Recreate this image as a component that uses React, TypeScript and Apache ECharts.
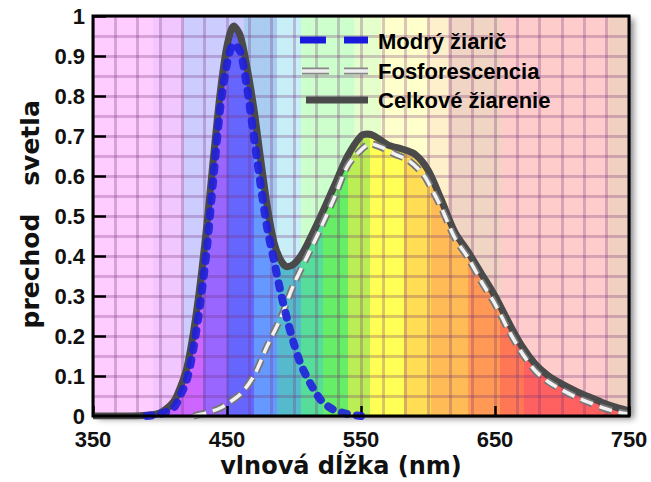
import React, { useEffect, useRef } from "react";
import * as echarts from "echarts";

// ---- data ----
const X_TICKS = [350, 450, 550, 650, 750];
const Y_TICKS = [0, 0.1, 0.2, 0.3, 0.4, 0.5, 0.6, 0.7, 0.8, 0.9, 1];

const totalNm = [350, 380, 390, 400, 410, 415, 420, 425, 430, 435, 440, 445, 450, 455, 460, 465, 470, 475, 480, 485, 490, 495, 500, 505, 510, 520, 530, 540, 550, 555, 560, 570, 580, 590, 600, 610, 620, 630, 640, 650, 660, 670, 680, 690, 700, 710, 720, 730, 740, 750];
const totalVal = [0, 0, 0.002, 0.008, 0.035, 0.07, 0.12, 0.21, 0.33, 0.48, 0.65, 0.81, 0.925, 0.975, 0.95, 0.87, 0.77, 0.645, 0.525, 0.435, 0.39, 0.373, 0.38, 0.4, 0.43, 0.5, 0.575, 0.65, 0.7, 0.705, 0.7, 0.678, 0.668, 0.655, 0.615, 0.54, 0.46, 0.41, 0.355, 0.3, 0.235, 0.175, 0.13, 0.1, 0.08, 0.063, 0.048, 0.034, 0.022, 0.013];

const phosNm = [425, 435, 445, 450, 460, 470, 480, 490, 500, 510, 520, 530, 540, 550, 557, 565, 575, 585, 595, 600, 610, 620, 630, 640, 650, 660, 670, 680, 690, 700, 710, 720, 730, 740, 750];
const phosVal = [0, 0.008, 0.02, 0.03, 0.055, 0.1, 0.175, 0.245, 0.33, 0.4, 0.47, 0.545, 0.625, 0.665, 0.68, 0.672, 0.655, 0.64, 0.61, 0.585, 0.52, 0.445, 0.395, 0.335, 0.28, 0.215, 0.158, 0.113, 0.085, 0.065, 0.048, 0.034, 0.021, 0.011, 0.005];

const blueNm = [390, 400, 410, 415, 420, 425, 430, 435, 440, 445, 450, 455, 460, 465, 470, 475, 480, 485, 490, 495, 500, 505, 510, 515, 520, 525, 530, 540, 550];
const blueVal = [0, 0.005, 0.02, 0.05, 0.09, 0.17, 0.28, 0.42, 0.6, 0.77, 0.88, 0.93, 0.91, 0.82, 0.7, 0.58, 0.47, 0.39, 0.31, 0.24, 0.18, 0.13, 0.095, 0.065, 0.04, 0.025, 0.015, 0.005, 0];

const SERIES_NAMES = ["Modrý žiarič", "Fosforescencia", "Celkové žiarenie"];

// ---- colour bands (nm ranges) ----
const PALE_BANDS: [number, number, string][] = [
  [350, 395, "#ffccff"], [395, 417, "#f2c6ff"], [417, 463, "#ccccff"], [463, 487, "#aaccf0"],
  [487, 505, "#c8eef8"], [505, 545, "#ccffcc"], [545, 565, "#e4ffcc"], [565, 600, "#ffffcc"],
  [600, 615, "#fff0cc"], [615, 655, "#f0d4c4"], [655, 735, "#ffcccc"], [735, 750, "#f0d0c0"],
];
const SPECTRUM_BANDS: [number, number, string][] = [
  [350, 407, "#ee99ff"], [407, 432, "#cc66ff"], [432, 450, "#9966ff"], [450, 470, "#6666ff"],
  [470, 487, "#6699ff"], [487, 505, "#55bbcc"], [505, 522, "#55dd99"], [522, 540, "#66ee66"],
  [540, 557, "#bbee55"], [557, 582, "#ffff55"], [582, 602, "#ffdd55"], [602, 630, "#ffbb55"],
  [630, 654, "#ff9955"], [654, 672, "#ff7755"], [672, 750, "#ff6060"],
];

const X_MIN = 350, X_MAX = 750;

function bandGradient(bands: [number, number, string][]) {
  const stops: { offset: number; color: string }[] = [];
  bands.forEach(([a, b, c]) => {
    stops.push({ offset: (a - X_MIN) / (X_MAX - X_MIN), color: c });
    stops.push({ offset: (b - X_MIN) / (X_MAX - X_MIN), color: c });
  });
  return new echarts.graphic.LinearGradient(0, 0, 1, 0, stops);
}

const zip = (xs: number[], ys: number[]) => xs.map((x, i) => [x, ys[i]]);

const G_LEFT = 93, G_TOP = 16, G_W = 536, G_H = 400;
const TICK_FONT = "Liberation Sans";
const TITLE_FONT = "DejaVu Sans";

export default function App() {
  const ref = useRef<HTMLDivElement>(null);
  useEffect(() => {
    document.body.style.margin = "0";
    const chart = echarts.init(ref.current!, null, { renderer: "svg" });
    const gridLine = { color: "rgba(120,50,120,0.28)", width: 3 };
    chart.setOption({
      animation: false,
      grid: { left: G_LEFT, top: G_TOP, width: G_W, height: G_H },
      xAxis: {
        type: "value", min: X_TICKS[0], max: X_TICKS[X_TICKS.length - 1], interval: 100, z: 2,
        axisLine: { show: false },
        axisTick: { show: true, inside: true, length: 10, lineStyle: { color: "#000", width: 2.5 } },
        axisLabel: { color: "#111", fontFamily: TICK_FONT, fontWeight: "bold", fontSize: 22, margin: 12 },
        splitLine: { show: true, lineStyle: gridLine },
        minorTick: { show: false, splitNumber: 6 },
        minorSplitLine: { show: true, lineStyle: gridLine },
      },
      yAxis: {
        type: "value", min: Y_TICKS[0], max: Y_TICKS[Y_TICKS.length - 1], interval: 0.1, z: 2,
        axisLine: { show: false },
        axisTick: { show: true, inside: true, length: 13, lineStyle: { color: "#000", width: 2.5 } },
        axisLabel: { color: "#111", fontFamily: TICK_FONT, fontWeight: "bold", fontSize: 22, margin: 8 },
        splitLine: { show: true, lineStyle: gridLine },
        minorTick: { show: false, splitNumber: 2 },
        minorSplitLine: { show: true, lineStyle: gridLine },
      },
      series: [
        {
          type: "line", silent: true, z: 1, symbol: "none",
          data: [[X_MIN, 1], [X_MAX, 1]],
          lineStyle: { width: 0 },
          areaStyle: { color: bandGradient(PALE_BANDS), opacity: 1 },
        },
        {
          type: "line", silent: true, z: 1, symbol: "none", smooth: 0.3,
          data: zip(totalNm, totalVal),
          lineStyle: { width: 0 },
          areaStyle: { color: bandGradient(SPECTRUM_BANDS), opacity: 1 },
        },
        {
          name: SERIES_NAMES[2], type: "line", z: 3, symbol: "none", smooth: 0.3,
          data: zip(totalNm, totalVal),
          lineStyle: { color: "#4a4a4a", width: 7 },
        },
        {
          type: "line", z: 3, symbol: "none", smooth: 0.3,
          data: zip(phosNm, phosVal),
          lineStyle: { color: "#777777", width: 7, type: [13, 7] },
        },
        {
          name: SERIES_NAMES[1], type: "line", z: 3, symbol: "none", smooth: 0.3,
          data: zip(phosNm, phosVal),
          lineStyle: { color: "#f2f2f2", width: 3.5, type: [13, 7] },
        },
        {
          name: SERIES_NAMES[0], type: "line", z: 3, symbol: "none", smooth: 0.3,
          data: zip(blueNm, blueVal),
          lineStyle: { color: "#2020dd", width: 8, type: [5, 10], cap: "round", opacity: 0.9 },
        },
      ],
      graphic: [
        {
          type: "rect", z: -10,
          shape: { x: G_LEFT, y: G_TOP, width: G_W, height: G_H },
          style: { fill: "#fff", shadowBlur: 6, shadowColor: "rgba(0,0,0,0.45)", shadowOffsetX: 5, shadowOffsetY: 3 },
        },
        {
          type: "rect", z: 100,
          shape: { x: G_LEFT, y: G_TOP, width: G_W, height: G_H },
          style: { fill: "transparent", stroke: "#000", lineWidth: 3 },
        },
        // legend
        { type: "line", z: 100, shape: { x1: 300, y1: 40, x2: 368, y2: 40 }, style: { stroke: "#1a1add", lineWidth: 7, lineDash: [26, 18] } },
        { type: "line", z: 100, shape: { x1: 302, y1: 71, x2: 368, y2: 71 }, style: { stroke: "#888", lineWidth: 7, lineDash: [27, 15] } },
        { type: "line", z: 101, shape: { x1: 302, y1: 71, x2: 368, y2: 71 }, style: { stroke: "#eee", lineWidth: 3.5, lineDash: [27, 15] } },
        { type: "line", z: 100, shape: { x1: 306, y1: 100, x2: 368, y2: 100 }, style: { stroke: "#4a4a4a", lineWidth: 7 } },
        { type: "text", z: 100, x: 378, y: 41, style: { text: SERIES_NAMES[0], font: `bold 22px "${TICK_FONT}"`, fill: "#000", align: "left", verticalAlign: "middle" } },
        { type: "text", z: 100, x: 378, y: 71, style: { text: SERIES_NAMES[1], font: `bold 22px "${TICK_FONT}"`, fill: "#000", align: "left", verticalAlign: "middle" } },
        { type: "text", z: 100, x: 378, y: 100, style: { text: SERIES_NAMES[2], font: `bold 22px "${TICK_FONT}"`, fill: "#000", align: "left", verticalAlign: "middle" } },
        // axis titles
        { type: "text", z: 100, x: 341, y: 466, style: { text: "vlnová dĺžka (nm)", font: `bold 24px "${TITLE_FONT}"`, fill: "#111", align: "center", verticalAlign: "middle" } },
        { type: "text", z: 100, x: 30, y: 143, rotation: Math.PI / 2, style: { text: "svetla", font: `bold 25px "${TITLE_FONT}"`, fill: "#111", align: "center", verticalAlign: "middle" } },
        { type: "text", z: 100, x: 30, y: 271, rotation: Math.PI / 2, style: { text: "prechod", font: `bold 25px "${TITLE_FONT}"`, fill: "#111", align: "center", verticalAlign: "middle" } },
      ],
    });
    return () => chart.dispose();
  }, []);
  return <div ref={ref} style={{ width: 651, height: 482 }} />;
}
